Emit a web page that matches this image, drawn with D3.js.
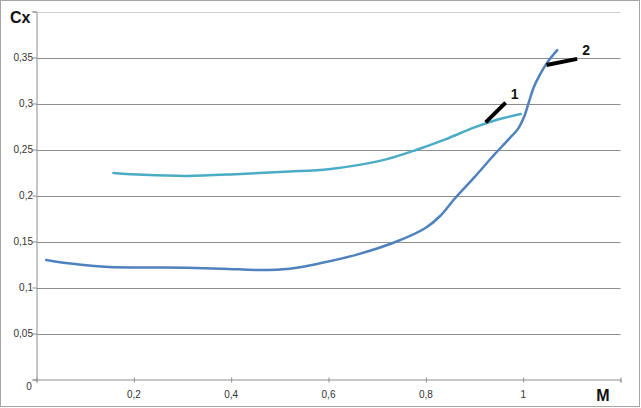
<!DOCTYPE html>
<html>
<head>
<meta charset="utf-8">
<script src="https://cdn.jsdelivr.net/npm/d3@7"></script>
<style>
  html, body { margin: 0; padding: 0; background: #fff; }
  svg { display: block; }
</style>
</head>
<body>
<svg id="chart" width="641" height="408"></svg>
<script>
// Curve 1 (upper, teal)
const curve1M  = [0.158, 0.22, 0.31, 0.42, 0.52, 0.60, 0.66, 0.72, 0.78, 0.84, 0.90, 0.95, 0.995];
const curve1Cx = [0.2245, 0.2225, 0.2213, 0.2235, 0.226, 0.2286, 0.233, 0.2395, 0.2495, 0.261, 0.274, 0.2828, 0.2885];
// Curve 2 (lower, blue)
const curve2M  = [0.02, 0.07, 0.15, 0.26, 0.38, 0.46, 0.52, 0.58, 0.66, 0.74, 0.80, 0.83, 0.86, 0.90, 0.94, 0.97, 0.99, 1.003, 1.012, 1.022, 1.035, 1.05, 1.07];
const curve2Cx = [0.13, 0.126, 0.1222, 0.1218, 0.1205, 0.119, 0.1205, 0.126, 0.136, 0.150, 0.165, 0.178, 0.197, 0.220, 0.244, 0.261, 0.273, 0.287, 0.302, 0.318, 0.332, 0.345, 0.358];

const xTicks = [0, 0.2, 0.4, 0.6, 0.8, 1, 1.2];
const xTickLabels = [0.2, 0.4, 0.6, 0.8, 1];
const yTicks = [0, 0.05, 0.1, 0.15, 0.2, 0.25, 0.3, 0.35, 0.4];
const yTickLabels = [0, 0.05, 0.1, 0.15, 0.2, 0.25, 0.3, 0.35];

const labels = [
  { text: "1", at: [0.923, 0.2795], to: [0.964, 0.301] },
  { text: "2", at: [1.048, 0.3418], to: [1.111, 0.3485] }
];

const svg = d3.select("#chart");
const W = 641, H = 408;

const x = d3.scaleLinear().domain([0, 1.2]).range([36.5, 620.5]);
const y = d3.scaleLinear().domain([0, 0.4]).range([379.5, 11.5]);

const fmt = v => String(+v.toFixed(4)).replace(".", ",");

// outer frame
svg.append("rect").attr("x", 0.5).attr("y", 0.5).attr("width", W - 2).attr("height", H - 2)
  .attr("fill", "#fff").attr("stroke", "#a6a6a6").attr("stroke-width", 1);

// gridlines
svg.append("g").selectAll("line").data(yTicks.filter(d => d > 0)).join("line")
  .attr("x1", x(0)).attr("x2", x(1.2))
  .attr("y1", d => Math.round(y(d)) + 0.5).attr("y2", d => Math.round(y(d)) + 0.5)
  .attr("stroke", d => d === 0.4 ? "#d0d0d0" : "#8e8e8e").attr("stroke-width", 1);

// y axis
const gy = svg.append("g").attr("transform", `translate(${x(0)},0)`)
  .call(d3.axisLeft(y).tickValues(yTicks).tickSize(4).tickFormat(""));
gy.select(".domain").attr("stroke", "#8e8e8e");
gy.selectAll(".tick line").attr("stroke", "#8e8e8e");

svg.append("g").selectAll("text").data(yTickLabels).join("text")
  .attr("x", d => d === 0 ? 29 : 33)
  .attr("y", d => d === 0 ? y(d) + 7 : y(d))
  .attr("dy", "0.35em")
  .attr("text-anchor", d => d === 0 ? "middle" : "end")
  .attr("font-family", "Liberation Sans, Arial, sans-serif")
  .attr("font-size", 10).attr("fill", "#333")
  .text(fmt);

// x axis
const gx = svg.append("g").attr("transform", `translate(0,${y(0)})`)
  .call(d3.axisBottom(x).tickValues(xTicks).tickSize(3).tickFormat(""));
gx.select(".domain").attr("stroke", "#8e8e8e");
gx.selectAll(".tick line").attr("stroke", "#8e8e8e").attr("y1", -2);

svg.append("g").selectAll("text").data(xTickLabels).join("text")
  .attr("x", d => x(d)).attr("y", 394).attr("dy", "0.35em")
  .attr("text-anchor", "middle")
  .attr("font-family", "Liberation Sans, Arial, sans-serif")
  .attr("font-size", 10).attr("fill", "#333")
  .text(fmt);

// axis titles
svg.append("text").attr("x", 10).attr("y", 23)
  .attr("font-family", "Liberation Sans, Arial, sans-serif")
  .attr("font-size", 16).attr("font-weight", "bold").attr("fill", "#111").text("Cx");
svg.append("text").attr("x", 603).attr("y", 401).attr("text-anchor", "middle")
  .attr("font-family", "Liberation Sans, Arial, sans-serif")
  .attr("font-size", 16).attr("font-weight", "bold").attr("fill", "#111").text("M");

// curves
const line = d3.line().x(d => x(d[0])).y(d => y(d[1])).curve(d3.curveCatmullRom.alpha(0.5));
const c1 = curve1M.map((m, i) => [m, curve1Cx[i]]);
const c2 = curve2M.map((m, i) => [m, curve2Cx[i]]);

svg.append("path").datum(c1).attr("d", line)
  .attr("fill", "none").attr("stroke", "#4bacc6").attr("stroke-width", 2.5).attr("stroke-linecap", "round");
svg.append("path").datum(c2).attr("d", line)
  .attr("fill", "none").attr("stroke", "#4f81bd").attr("stroke-width", 2.5).attr("stroke-linecap", "round");

// leader lines and labels
const lg = svg.append("g");
lg.selectAll("line").data(labels).join("line")
  .attr("x1", d => x(d.at[0])).attr("y1", d => y(d.at[1]))
  .attr("x2", d => x(d.to[0])).attr("y2", d => y(d.to[1]))
  .attr("stroke", "#000").attr("stroke-width", 4);
lg.selectAll("text").data(labels).join("text")
  .attr("x", d => x(d.to[0]) + 5).attr("y", d => y(d.to[1]) - 4)
  .attr("font-family", "Liberation Sans, Arial, sans-serif")
  .attr("font-size", 14).attr("font-weight", "bold").attr("fill", "#111")
  .text(d => d.text);
</script>
</body>
</html>
